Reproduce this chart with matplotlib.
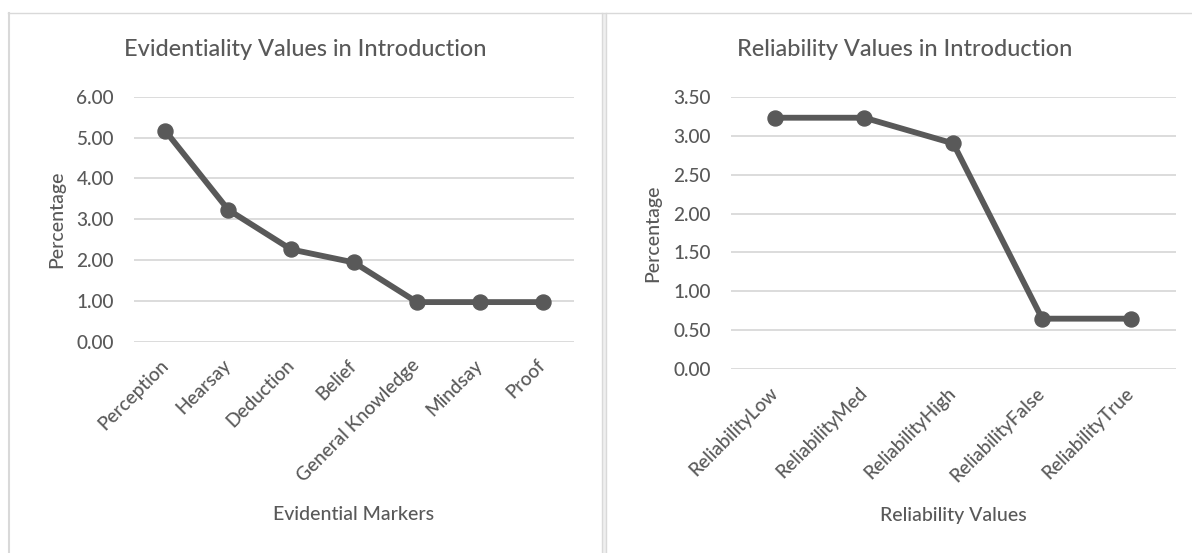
import matplotlib
matplotlib.use("Agg")
import matplotlib.pyplot as plt
from matplotlib.lines import Line2D
from matplotlib.patches import Rectangle

# Evidentiality chart data
evid_categories = ["Perception", "Hearsay", "Deduction", "Belief",
                   "General Knowledge", "Mindsay", "Proof"]
evid_values = [5.16, 3.23, 2.26, 1.94, 0.97, 0.97, 0.97]
evid_yticks = [0, 1, 2, 3, 4, 5, 6]

# Reliability chart data
rel_categories = ["ReliabilityLow", "ReliabilityMed", "ReliabilityHigh",
                  "ReliabilityFalse", "ReliabilityTrue"]
rel_values = [3.23, 3.23, 2.90, 0.65, 0.65]
rel_yticks = [0, 0.5, 1.0, 1.5, 2.0, 2.5, 3.0, 3.5]

W, H = 1192, 553
DPI = 100
TEXT = "#595959"
GRID = "#D9D9D9"
LINE = "#595959"
FONT = "Lato"
WEIGHT = "medium"
FS_TITLE = 16.9
FS_LABEL = 14
FS_TICK = 13.7

plt.rcParams["font.family"] = [FONT, "DejaVu Sans"]

fig = plt.figure(figsize=(W / DPI, H / DPI), dpi=DPI)
fig.patch.set_facecolor("white")


def fx(px):
    return px / W


def fy(py):
    return 1 - py / H


def frame_line(x0, y0, x1, y1, color=GRID, lw=1.0):
    fig.add_artist(Line2D([fx(x0), fx(x1)], [fy(y0), fy(y1)],
                          transform=fig.transFigure, color=color, lw=lw))


# chart frames
frame_line(8, 12.5, W, 12.5)
frame_line(9, 12.5, 9, H, lw=1.5)
fig.add_artist(Rectangle((fx(601.5), 0), fx(5), fy(12.5), transform=fig.transFigure,
                         facecolor="#EFEFEF", edgecolor="none"))
frame_line(602, 12.5, 602, H)
frame_line(606, 12.5, 606, H)


def make_chart(rect, cats, vals, yticks, ymax, title, title_xy, xlabel, xlabel_xy, ylabel_xy):
    left, top, right, bottom = rect
    ax = fig.add_axes([fx(left), fy(bottom), fx(right - left), (bottom - top) / H])
    ax.set_facecolor("none")
    n = len(cats)
    ax.set_xlim(-0.5, n - 0.5)
    ax.set_ylim(0, ymax)
    for s in ax.spines.values():
        s.set_visible(False)
    ax.set_yticks(yticks)
    ax.set_yticklabels([f"{v:.2f}" for v in yticks], fontweight=WEIGHT)
    ax.yaxis.grid(True, color=GRID, lw=1.3)
    ax.set_axisbelow(True)
    ax.set_xticks(range(n))
    ax.set_xticklabels(cats, rotation=45, ha="right", va="center",
                       rotation_mode="anchor", fontweight=WEIGHT)
    ax.tick_params(axis="y", length=0, pad=14.5, labelsize=FS_TICK, labelcolor=TEXT)
    ax.tick_params(axis="x", length=0, pad=15, labelsize=FS_TICK, labelcolor=TEXT)
    ax.plot(range(n), vals, color=LINE, lw=4.2, marker="o", markersize=10.8,
            solid_capstyle="round", clip_on=False, zorder=3)

    fig.text(fx(title_xy[0]), fy(title_xy[1]), title, ha="center", va="baseline",
             fontsize=FS_TITLE, color=TEXT, fontweight=WEIGHT)
    fig.text(fx(xlabel_xy[0]), fy(xlabel_xy[1]), xlabel, ha="center", va="center",
             fontsize=FS_LABEL, color=TEXT, fontweight=WEIGHT)
    fig.text(fx(ylabel_xy[0]), fy(ylabel_xy[1]), "Percentage", ha="center", va="center",
             rotation=90, fontsize=FS_LABEL, color=TEXT, fontweight=WEIGHT)
    return ax


make_chart((134, 96.7, 574, 341.7), evid_categories, evid_values, evid_yticks, 6,
           "Evidentiality Values in Introduction", (305.5, 56),
           "Evidential Markers", (354, 515), (57, 219))
make_chart((731, 96.7, 1175.5, 369.3), rel_categories, rel_values, rel_yticks, 3.5,
           "Reliability Values in Introduction", (905, 56),
           "Reliability Values", (953, 515), (653, 233))

fig.savefig("out.png", dpi=DPI, facecolor="white")
